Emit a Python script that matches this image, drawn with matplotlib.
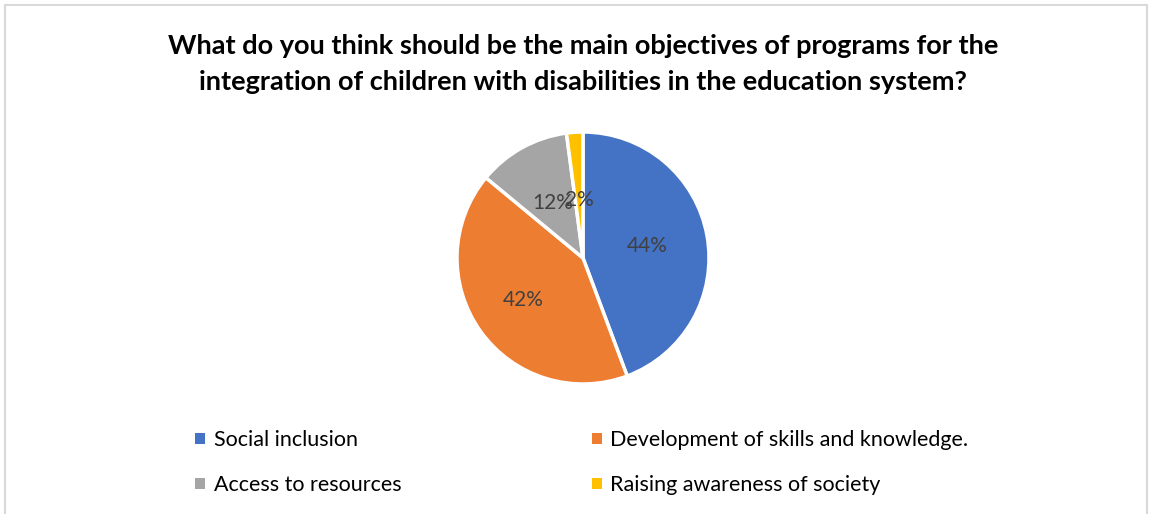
import matplotlib
matplotlib.use("Agg")
import matplotlib.pyplot as plt
import numpy as np
from matplotlib.patches import Patch, Rectangle

categories = ["Social inclusion", "Development of skills and knowledge.",
              "Access to resources", "Raising awareness of society"]
values = [44.3, 41.7, 11.9, 2.1]
colors = ["#4472C4", "#ED7D31", "#A5A5A5", "#FFC000"]
title = ("What do you think should be the main objectives of programs for the\n"
         "integration of children with disabilities in the education system?")

plt.rcParams['font.family'] = ['Lato', 'DejaVu Sans']

W, H = 1151, 514
fig = plt.figure(figsize=(W / 100, H / 100), dpi=100)
fig.patch.set_facecolor("white")

# frame
fig.add_artist(Rectangle((5 / W, -0.1), (1147 - 5) / W, 1 - 5 / H + 0.1,
                         transform=fig.transFigure, fill=False,
                         edgecolor="#d9d9d9", linewidth=1.5))

cx, cy, r = 583, 258, 126
ax = fig.add_axes([(cx - r) / W, (H - cy - r) / H, 2 * r / W, 2 * r / H])
wedges, texts, autotexts = ax.pie(
    values, colors=colors, startangle=90, counterclock=False,
    autopct=lambda p: f"{p:.0f}%", pctdistance=0.52,
    wedgeprops=dict(edgecolor="white", linewidth=2.5),
    textprops=dict(color="#404040", fontsize=15))
# per-label radial distance tweaks (label placement similar to the reference)
dists = [0.52, 0.58, 0.50, 0.46]
for w, t, d in zip(wedges, autotexts, dists):
    ang = np.deg2rad((w.theta1 + w.theta2) / 2)
    t.set_position((d * np.cos(ang), d * np.sin(ang)))
ax.set_xlim(-1, 1)
ax.set_ylim(-1, 1)

fig.text(cx / W, 1 - 64 / H, title, ha="center", va="center",
         fontsize=19.5, fontweight="bold", color="black", linespacing=1.58)

# row-wise legend order (matplotlib fills columns first)
order = [0, 2, 1, 3]
handles = [Patch(facecolor=colors[i], edgecolor="none") for i in order]
labels = [categories[i] for i in order]
fig.legend(handles, labels, ncol=2, loc="upper left",
           bbox_to_anchor=(176 / W, 1 - 411 / H), frameon=False,
           fontsize=15.5, handlelength=0.45, handleheight=0.45,
           handletextpad=0.4, columnspacing=8.85, labelspacing=1.15,
           labelcolor="black")

fig.savefig("out.png", dpi=100)
